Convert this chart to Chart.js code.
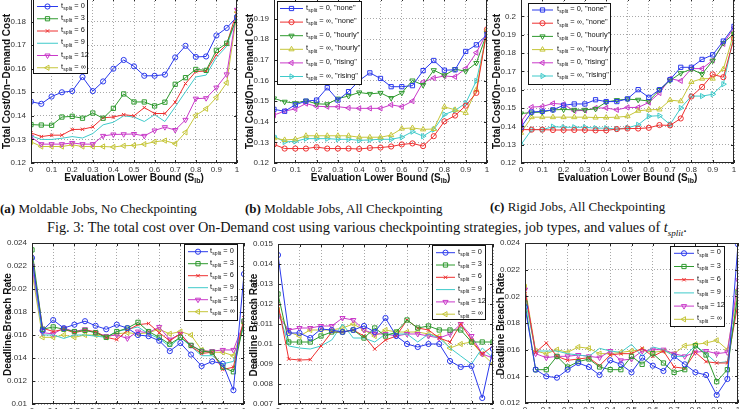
<!DOCTYPE html>
<html lang="en">
<head>
<meta charset="UTF-8">
<title>Fig. 3 - total cost and deadline breach rate</title>
<style>
  * { margin: 0; padding: 0; box-sizing: border-box; }
  body { background: #fff; width: 743px; height: 409px; overflow: hidden; position: relative; }
  canvas { position: absolute; }
  .cap { position: absolute; font-family: "Liberation Serif", "Times New Roman", serif; font-size: 13px; color: #111; white-space: nowrap; }
</style>
<script src="https://cdn.jsdelivr.net/npm/chart.js"></script>
</head>
<body>
<div class="cap" style="left:0px;top:201px"><b>(a)</b> Moldable Jobs, No Checkpointing</div>
<div class="cap" style="left:245px;top:201px"><b>(b)</b> Moldable Jobs, All Checkpointing</div>
<div class="cap" style="left:490px;top:199px"><b>(c)</b> Rigid Jobs, All Checkpointing</div>
<div class="cap" style="left:47px;top:219px;font-size:14.3px">Fig. 3: The total cost over On-Demand cost using various checkpointing strategies, job types, and values of <i>t<sub style="font-size:9px">split</sub></i>.</div>

<canvas id="chartA"></canvas>
<canvas id="chartB"></canvas>
<canvas id="chartC"></canvas>
<canvas id="chartD"></canvas>
<canvas id="chartE"></canvas>
<canvas id="chartF"></canvas>

<script>
// evaluation lower bound S_lb (x axis, same for every panel)
const sLb = [0, 0.05, 0.1, 0.15, 0.2, 0.25, 0.3, 0.35, 0.4, 0.45, 0.5, 0.55, 0.6, 0.65, 0.7, 0.75, 0.8, 0.85, 0.9, 0.95, 1];

// legend labels
const splitLabels = ['0', '3', '6', '9', '12', '\u221e'];
const strategyLabels = ['0, "none"', '\u221e, "none"', '0, "hourly"', '\u221e, "hourly"', '0, "rising"', '\u221e, "rising"'];

// (a) moldable jobs, no checkpointing - total cost / on-demand cost
const aSplit0   = [0.1460, 0.1451, 0.1482, 0.1500, 0.1505, 0.1565, 0.1505, 0.1546, 0.1600, 0.1637, 0.1610, 0.1570, 0.1570, 0.1575, 0.1648, 0.1697, 0.1650, 0.1652, 0.1741, 0.1773, 0.1820];
const aSplit3   = [0.1363, 0.1361, 0.1360, 0.1395, 0.1398, 0.1390, 0.1412, 0.1390, 0.1432, 0.1493, 0.1459, 0.1459, 0.1442, 0.1458, 0.1534, 0.1562, 0.1597, 0.1593, 0.1678, 0.1708, 0.1818];
const aSplit6   = [0.1328, 0.1312, 0.1318, 0.1318, 0.1342, 0.1343, 0.1353, 0.1392, 0.1395, 0.1405, 0.1400, 0.1435, 0.1410, 0.1410, 0.1458, 0.1537, 0.1588, 0.1590, 0.1660, 0.1703, 0.1845];
const aSplit9   = [0.1315, 0.1300, 0.1300, 0.1305, 0.1312, 0.1306, 0.1325, 0.1362, 0.1373, 0.1400, 0.1395, 0.1376, 0.1405, 0.1376, 0.1438, 0.1502, 0.1565, 0.1573, 0.1648, 0.1695, 0.1820];
const aSplit12  = [0.1310, 0.1280, 0.1280, 0.1280, 0.1285, 0.1280, 0.1280, 0.1315, 0.1321, 0.1322, 0.1323, 0.1315, 0.1338, 0.1352, 0.1340, 0.1383, 0.1473, 0.1475, 0.1520, 0.1576, 0.1850];
const aSplitInf = [0.1290, 0.1270, 0.1270, 0.1270, 0.1277, 0.1270, 0.1270, 0.1270, 0.1268, 0.1273, 0.1275, 0.1280, 0.1290, 0.1295, 0.1282, 0.1330, 0.1402, 0.1430, 0.1478, 0.1540, 0.1840];

// (b) moldable jobs, all checkpointing
const bNone0     = [0.1460, 0.1451, 0.1482, 0.1500, 0.1505, 0.1565, 0.1505, 0.1546, 0.1600, 0.1637, 0.1610, 0.1570, 0.1570, 0.1575, 0.1648, 0.1697, 0.1650, 0.1652, 0.1741, 0.1773, 0.1822];
const bNoneInf   = [0.1290, 0.1270, 0.1270, 0.1270, 0.1277, 0.1270, 0.1270, 0.1270, 0.1268, 0.1273, 0.1275, 0.1280, 0.1290, 0.1295, 0.1282, 0.1330, 0.1402, 0.1430, 0.1478, 0.1540, 0.1848];
const bHourly0   = [0.1513, 0.1497, 0.1490, 0.1502, 0.1487, 0.1485, 0.1512, 0.1525, 0.1542, 0.1535, 0.1540, 0.1515, 0.1540, 0.1600, 0.1578, 0.1650, 0.1625, 0.1655, 0.1645, 0.1685, 0.1830];
const bHourlyInf = [0.1320, 0.1312, 0.1315, 0.1332, 0.1332, 0.1332, 0.1332, 0.1332, 0.1325, 0.1325, 0.1325, 0.1335, 0.1367, 0.1370, 0.1363, 0.1365, 0.1472, 0.1458, 0.1443, 0.1555, 0.1845];
const bRising0   = [0.1432, 0.1452, 0.1462, 0.1488, 0.1475, 0.1473, 0.1473, 0.1467, 0.1465, 0.1465, 0.1465, 0.1482, 0.1473, 0.1500, 0.1592, 0.1612, 0.1622, 0.1618, 0.1658, 0.1735, 0.1832];
const bRisingInf = [0.1330, 0.1302, 0.1305, 0.1318, 0.1318, 0.1318, 0.1315, 0.1315, 0.1310, 0.1312, 0.1315, 0.1315, 0.1325, 0.1352, 0.1330, 0.1362, 0.1435, 0.1455, 0.1490, 0.1598, 0.1828];

// (c) rigid jobs, all checkpointing
const cNone0     = [0.1395, 0.1478, 0.1482, 0.1490, 0.1515, 0.1522, 0.1522, 0.1545, 0.1535, 0.1535, 0.1550, 0.1600, 0.1558, 0.1600, 0.1655, 0.1722, 0.1722, 0.1765, 0.1790, 0.1865, 0.1945];
const cNoneInf   = [0.1382, 0.1382, 0.1382, 0.1380, 0.1380, 0.1380, 0.1380, 0.1378, 0.1378, 0.1385, 0.1388, 0.1388, 0.1392, 0.1407, 0.1405, 0.1443, 0.1563, 0.1615, 0.1683, 0.1668, 0.1880];
const cHourly0   = [0.1470, 0.1475, 0.1478, 0.1490, 0.1492, 0.1490, 0.1490, 0.1495, 0.1532, 0.1543, 0.1548, 0.1545, 0.1538, 0.1598, 0.1650, 0.1690, 0.1712, 0.1685, 0.1758, 0.1855, 0.1905];
const cHourlyInf = [0.1365, 0.1450, 0.1450, 0.1450, 0.1450, 0.1450, 0.1450, 0.1448, 0.1448, 0.1450, 0.1455, 0.1485, 0.1490, 0.1492, 0.1543, 0.1537, 0.1642, 0.1660, 0.1660, 0.1712, 0.1912];
const cRising0   = [0.1425, 0.1505, 0.1508, 0.1525, 0.1520, 0.1485, 0.1487, 0.1500, 0.1500, 0.1490, 0.1503, 0.1503, 0.1530, 0.1582, 0.1660, 0.1648, 0.1715, 0.1715, 0.1760, 0.1850, 0.1938];
const cRisingInf = [0.1300, 0.1382, 0.1382, 0.1398, 0.1395, 0.1395, 0.1395, 0.1390, 0.1390, 0.1385, 0.1392, 0.1408, 0.1455, 0.1458, 0.1410, 0.1500, 0.1565, 0.1565, 0.1575, 0.1630, 0.1895];

// (d) deadline breach rate, moldable jobs, no checkpointing
const dSplit0   = [0.0227, 0.0164, 0.0173, 0.0166, 0.0169, 0.0172, 0.0168, 0.0165, 0.0169, 0.0166, 0.0160, 0.0159, 0.0155, 0.0146, 0.0153, 0.0143, 0.0133, 0.0137, 0.0135, 0.0112, 0.0213];
const dSplit3   = [0.0234, 0.0165, 0.0167, 0.0165, 0.0163, 0.0164, 0.0162, 0.0158, 0.0163, 0.0166, 0.0171, 0.0163, 0.0158, 0.0152, 0.0158, 0.0151, 0.0146, 0.0145, 0.0132, 0.0128, 0.0172];
const dSplit6   = [0.0228, 0.0166, 0.0163, 0.0165, 0.0162, 0.0164, 0.0163, 0.0158, 0.0156, 0.0164, 0.0169, 0.0170, 0.0162, 0.0155, 0.0161, 0.0150, 0.0144, 0.0145, 0.0130, 0.0132, 0.0175];
const dSplit9   = [0.0225, 0.0160, 0.0160, 0.0157, 0.0160, 0.0160, 0.0159, 0.0158, 0.0163, 0.0165, 0.0167, 0.0161, 0.0157, 0.0150, 0.0158, 0.0150, 0.0142, 0.0142, 0.0135, 0.0137, 0.0168];
const dSplit12  = [0.0220, 0.0162, 0.0161, 0.0166, 0.0163, 0.0165, 0.0162, 0.0159, 0.0160, 0.0157, 0.0163, 0.0162, 0.0167, 0.0156, 0.0161, 0.0151, 0.0146, 0.0146, 0.0147, 0.0147, 0.0171];
const dSplitInf = [0.0215, 0.0158, 0.0158, 0.0160, 0.0158, 0.0160, 0.0160, 0.0158, 0.0161, 0.0162, 0.0161, 0.0162, 0.0165, 0.0161, 0.0163, 0.0160, 0.0147, 0.0145, 0.0145, 0.0142, 0.0170];

// (e) deadline breach rate, moldable jobs, all checkpointing
const eSplit0   = [0.01445, 0.01055, 0.01055, 0.0103, 0.01075, 0.0107, 0.0106, 0.0107, 0.0109, 0.0106, 0.0113, 0.0104, 0.0100, 0.00985, 0.0100, 0.0100, 0.00915, 0.00885, 0.0089, 0.0073, 0.00975];
const eSplit3   = [0.0125, 0.0101, 0.0101, 0.0101, 0.0104, 0.0106, 0.0106, 0.0107, 0.0103, 0.0108, 0.0104, 0.0106, 0.0112, 0.0108, 0.0109, 0.0107, 0.0107, 0.0107, 0.0101, 0.0101, 0.0101];
const eSplit6   = [0.0120, 0.00925, 0.0092, 0.00922, 0.0099, 0.0106, 0.0106, 0.0107, 0.0104, 0.00975, 0.0102, 0.0104, 0.0112, 0.0108, 0.0107, 0.0103, 0.0101, 0.0110, 0.0102, 0.0095, 0.0099];
const eSplit9   = [0.0117, 0.0099, 0.0098, 0.00975, 0.0099, 0.0102, 0.0110, 0.0103, 0.0103, 0.0101, 0.0105, 0.0105, 0.0105, 0.0101, 0.0105, 0.0103, 0.0098, 0.0094, 0.0090, 0.0098, 0.0093];
const eSplit12  = [0.0114, 0.0107, 0.0108, 0.0108, 0.0109, 0.0109, 0.0113, 0.0112, 0.0107, 0.0105, 0.0105, 0.0104, 0.0105, 0.0105, 0.0104, 0.0103, 0.0105, 0.0110, 0.0104, 0.0095, 0.0093];
const eSplitInf = [0.0117, 0.0106, 0.0104, 0.0107, 0.0107, 0.0107, 0.0108, 0.0110, 0.0107, 0.0104, 0.0107, 0.0106, 0.0106, 0.0106, 0.0105, 0.0104, 0.0098, 0.0100, 0.0101, 0.0095, 0.0090];

// (f) deadline breach rate, rigid jobs, all checkpointing
const fSplit0   = [0.0192, 0.0145, 0.0140, 0.0139, 0.0145, 0.0150, 0.0147, 0.0141, 0.0152, 0.0149, 0.0143, 0.0154, 0.0148, 0.0144, 0.0155, 0.0149, 0.0143, 0.0141, 0.0126, 0.0138, 0.0239];
const fSplit3   = [0.0195, 0.0145, 0.0145, 0.0155, 0.0147, 0.0151, 0.0153, 0.0147, 0.0145, 0.0145, 0.0155, 0.0149, 0.0157, 0.0150, 0.0143, 0.0145, 0.0163, 0.0156, 0.0136, 0.0145, 0.0203];
const fSplit6   = [0.0204, 0.0158, 0.0165, 0.0155, 0.0152, 0.0153, 0.0154, 0.0148, 0.0156, 0.0157, 0.0157, 0.0161, 0.0155, 0.0159, 0.0147, 0.0146, 0.0158, 0.0151, 0.0150, 0.0150, 0.0195];
const fSplit9   = [0.0198, 0.0159, 0.0159, 0.0159, 0.0157, 0.0156, 0.0155, 0.0161, 0.0159, 0.0158, 0.0164, 0.0155, 0.0162, 0.0160, 0.0155, 0.0155, 0.0163, 0.0157, 0.0150, 0.0151, 0.0200];
const fSplit12  = [0.0205, 0.0157, 0.0154, 0.0155, 0.0155, 0.0156, 0.0155, 0.0154, 0.0159, 0.0152, 0.0153, 0.0159, 0.0160, 0.0160, 0.0157, 0.0155, 0.0158, 0.0159, 0.0157, 0.0158, 0.0212];
const fSplitInf = [0.0207, 0.0159, 0.0157, 0.0160, 0.0158, 0.0162, 0.0161, 0.0157, 0.0157, 0.0158, 0.0159, 0.0160, 0.0158, 0.0159, 0.0157, 0.0163, 0.0164, 0.0165, 0.0167, 0.0160, 0.0205];

// matlab-ish line colours
const BLUE = '#2b3aec', GREEN = '#2f9a2f', RED = '#ee3030', CYAN = '#3fcaca', MAGENTA = '#c93ac9', YELLOW = '#c6c63a';
const FONT = '"Liberation Sans", Arial, sans-serif';

// marker set for the t_split panels and for the strategy panels
const splitStyles = [
  { color: BLUE, style: 'circle', rot: 0, r: 2.6 },
  { color: GREEN, style: 'rect', rot: 0, r: 3 },
  { color: RED, style: 'crossRot', rot: 0, r: 2.4 },
  { color: CYAN, style: 'circle', rot: 0, r: 0 },
  { color: MAGENTA, style: 'triangle', rot: 180, r: 3 },
  { color: YELLOW, style: 'triangle', rot: 270, r: 3 }
];
const strategyStyles = [
  { color: BLUE, style: 'rect', rot: 0, r: 3 },
  { color: RED, style: 'circle', rot: 0, r: 2.6 },
  { color: GREEN, style: 'triangle', rot: 180, r: 3 },
  { color: YELLOW, style: 'triangle', rot: 0, r: 3 },
  { color: MAGENTA, style: 'triangle', rot: 270, r: 3 },
  { color: CYAN, style: 'triangle', rot: 90, r: 3 }
];

const costTitle = 'Total Cost/On\u2212Demand Cost';
const breachTitle = 'Deadline Breach Rate';

// rect = plot area in page pixels, legend box also in page pixels
const panels = [
  { id: 'chartA', rect: { l: 31, t: -2, r: 237, b: 163 }, y: [0.12, 0.19, 0.01], yTitle: costTitle,
    series: [aSplit0, aSplit3, aSplit6, aSplit9, aSplit12, aSplitInf], styles: splitStyles, labels: splitLabels,
    legend: { x: 33, y: -5, w: 55, h: 79, row0: 6.5, gap: 12.25, l0: 37, l1: 58, tx: 61 } },
  { id: 'chartB', rect: { l: 274, t: -2, r: 487, b: 163 }, y: [0.12, 0.20, 0.01], yTitle: costTitle,
    series: [bNone0, bNoneInf, bHourly0, bHourlyInf, bRising0, bRisingInf], styles: strategyStyles, labels: strategyLabels,
    legend: { x: 277, y: 1, w: 85, h: 84, row0: 8.5, gap: 13.6, l0: 280, l1: 303, tx: 306 } },
  { id: 'chartC', rect: { l: 521, t: -2, r: 734, b: 163 }, y: [0.12, 0.21, 0.01], yTitle: costTitle,
    series: [cNone0, cNoneInf, cHourly0, cHourlyInf, cRising0, cRisingInf], styles: strategyStyles, labels: strategyLabels,
    legend: { x: 528, y: 3, w: 83, h: 82, row0: 10, gap: 13.2, l0: 532, l1: 553, tx: 557 } },
  { id: 'chartD', rect: { l: 32, t: 243, r: 244, b: 404 }, y: [0.01, 0.024, 0.002], yTitle: breachTitle,
    series: [dSplit0, dSplit3, dSplit6, dSplit9, dSplit12, dSplitInf], styles: splitStyles, labels: splitLabels,
    legend: { x: 184, y: 244, w: 54, h: 77, row0: 251.7, gap: 12, l0: 188, l1: 208, tx: 210 } },
  { id: 'chartE', rect: { l: 278, t: 244, r: 493, b: 404 }, y: [0.007, 0.015, 0.001], yTitle: breachTitle,
    series: [eSplit0, eSplit3, eSplit6, eSplit9, eSplit12, eSplitInf], styles: splitStyles, labels: splitLabels,
    legend: { x: 432, y: 245, w: 54, h: 75, row0: 252.7, gap: 12.3, l0: 436, l1: 455, tx: 458 } },
  { id: 'chartF', rect: { l: 525, t: 243, r: 738, b: 403 }, y: [0.012, 0.024, 0.002], yTitle: breachTitle,
    series: [fSplit0, fSplit3, fSplit6, fSplit9, fSplit12, fSplitInf], styles: splitStyles, labels: splitLabels,
    legend: { x: 670, y: 246, w: 55, h: 81, row0: 253.3, gap: 13.2, l0: 674, l1: 694, tx: 697 } }
];

const YW = 34, XH = 34, PAD_T = 10, PAD_R = 10;

function marker(ctx, st, x, y) {
  if (!st.r) return;
  ctx.strokeStyle = st.color;
  ctx.fillStyle = 'rgba(0,0,0,0)';
  ctx.lineWidth = 1;
  if (Chart.helpers && Chart.helpers.drawPoint) {
    Chart.helpers.drawPoint(ctx, { pointStyle: st.style, rotation: st.rot, radius: st.r, borderWidth: 1 }, x, y);
  } else {
    ctx.beginPath(); ctx.arc(x, y, st.r, 0, Math.PI * 2); ctx.stroke();
  }
}

// t with "split" subscript, then the rest of the label
function splitText(ctx, x, y, rest) {
  ctx.fillStyle = '#111';
  ctx.textBaseline = 'middle';
  ctx.textAlign = 'left';
  ctx.font = '7.4px ' + FONT;
  ctx.fillText('t', x, y - 1);
  let w = ctx.measureText('t').width + 0.3;
  ctx.font = '5px ' + FONT;
  ctx.fillText('split', x + w, y + 2);
  w += ctx.measureText('split').width;
  ctx.font = '7.4px ' + FONT;
  ctx.fillText(' = ' + rest, x + w, y - 1);
}

// full box, inward ticks, axis titles and the boxed legend
const matlabAxes = {
  id: 'matlab',
  afterDraw(chart, args, o) {
    const ctx = chart.ctx, a = chart.chartArea, sx = chart.scales.x, sy = chart.scales.y;
    ctx.save();
    ctx.strokeStyle = '#262626';
    ctx.lineWidth = 1;
    ctx.beginPath();
    sx.ticks.forEach(t => {
      const p = Math.round(sx.getPixelForValue(t.value)) + 0.5;
      ctx.moveTo(p, a.bottom); ctx.lineTo(p, a.bottom - 3);
      ctx.moveTo(p, a.top); ctx.lineTo(p, a.top + 3);
    });
    sy.ticks.forEach(t => {
      const p = Math.round(sy.getPixelForValue(t.value)) + 0.5;
      ctx.moveTo(a.left, p); ctx.lineTo(a.left + 3, p);
      ctx.moveTo(a.right, p); ctx.lineTo(a.right - 3, p);
    });
    ctx.stroke();
    ctx.strokeRect(a.left + 0.5, a.top + 0.5, a.width - 1, a.height - 1);

    // y title
    ctx.fillStyle = '#111';
    ctx.font = 'bold 10px ' + FONT;
    ctx.textAlign = 'center';
    ctx.textBaseline = 'middle';
    ctx.save();
    ctx.translate(a.left - 24, (a.top + a.bottom) / 2 + 1);
    ctx.rotate(-Math.PI / 2);
    ctx.fillText(o.yTitle, 0, 0);
    ctx.restore();

    // x title with S_lb subscript
    const main = 'Evaluation Lower Bound (S';
    ctx.font = 'bold 10px ' + FONT;
    const w1 = ctx.measureText(main).width, w3 = ctx.measureText(')').width;
    ctx.font = 'bold 7px ' + FONT;
    const w2 = ctx.measureText('lb').width;
    const x = (a.left + a.right) / 2 - (w1 + w2 + w3) / 2;
    const y = a.bottom + 15;
    ctx.textAlign = 'left';
    ctx.font = 'bold 10px ' + FONT;
    ctx.fillText(main, x, y);
    ctx.font = 'bold 7px ' + FONT;
    ctx.fillText('lb', x + w1, y + 3);
    ctx.font = 'bold 10px ' + FONT;
    ctx.fillText(')', x + w1 + w2, y);

    // legend
    const lg = o.legend, ox = o.offX, oy = o.offY;
    ctx.fillStyle = '#fff';
    ctx.fillRect(lg.x - ox, lg.y - oy, lg.w, lg.h);
    ctx.strokeStyle = '#111';
    ctx.lineWidth = 1;
    ctx.strokeRect(lg.x - ox + 0.5, lg.y - oy + 0.5, lg.w - 1, lg.h - 1);
    o.styles.forEach((st, i) => {
      const ry = lg.row0 + i * lg.gap - oy;
      ctx.strokeStyle = st.color;
      ctx.lineWidth = 1;
      ctx.beginPath();
      ctx.moveTo(lg.l0 - ox, ry); ctx.lineTo(lg.l1 - ox, ry);
      ctx.stroke();
      marker(ctx, st, (lg.l0 + lg.l1) / 2 - ox, ry);
      splitText(ctx, lg.tx - ox, ry, o.labels[i]);
    });
    ctx.restore();
  }
};

const fmt = v => String(+Number(v).toFixed(4));

panels.forEach(p => {
  const canvas = document.getElementById(p.id);
  const offX = p.rect.l - YW, offY = p.rect.t - PAD_T;
  canvas.width = p.rect.r - p.rect.l + YW + PAD_R;
  canvas.height = p.rect.b - p.rect.t + PAD_T + XH;
  canvas.style.left = offX + 'px';
  canvas.style.top = offY + 'px';

  const datasets = p.series.map((vals, i) => {
    const st = p.styles[i];
    return {
      data: sLb.map((x, k) => ({ x: x, y: vals[k] })),
      borderColor: st.color,
      backgroundColor: 'rgba(0,0,0,0)',
      borderWidth: 1,
      tension: 0,
      pointStyle: st.style,
      pointRotation: st.rot,
      pointRadius: st.r,
      pointBorderWidth: 1,
      pointBorderColor: st.color,
      pointBackgroundColor: 'rgba(0,0,0,0)'
    };
  });

  new Chart(canvas, {
    type: 'line',
    data: { datasets: datasets },
    options: {
      responsive: false,
      animation: false,
      events: [],
      layout: { padding: { top: PAD_T, right: PAD_R, left: 0, bottom: 0 } },
      plugins: {
        legend: { display: false },
        tooltip: { enabled: false },
        matlab: { yTitle: p.yTitle, legend: p.legend, styles: p.styles, labels: p.labels, offX: offX, offY: offY }
      },
      scales: {
        x: {
          type: 'linear', min: 0, max: 1,
          afterFit: s => { s.height = XH; },
          ticks: { stepSize: 0.1, autoSkip: false, maxRotation: 0, padding: 2, color: '#333', font: { family: FONT, size: 8 }, callback: fmt },
          grid: { color: '#a8a8a8', drawTicks: false },
          border: { display: false, dash: [1, 2] }
        },
        y: {
          type: 'linear', min: p.y[0], max: p.y[1],
          afterFit: s => { s.width = YW; },
          ticks: { stepSize: p.y[2], autoSkip: false, padding: 5, color: '#333', font: { family: FONT, size: 8 }, callback: fmt },
          grid: { color: '#a8a8a8', drawTicks: false },
          border: { display: false, dash: [1, 2] }
        }
      }
    },
    plugins: [matlabAxes]
  });
});
</script>
</body>
</html>
